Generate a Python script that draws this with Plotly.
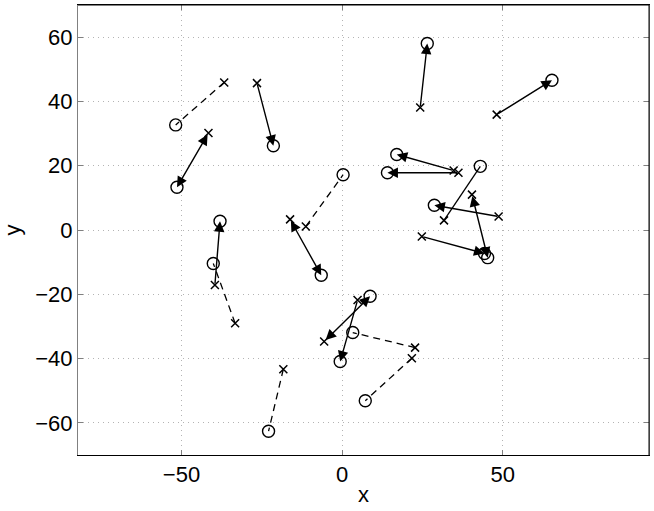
import plotly.graph_objects as go

# dashed pairs: cross -> circle
dash_x0 = [-36.7, -11.3, -33.3, -18.3, 22.7, 21.7]
dash_y0 = [45.9, 1.1, -29.0, -43.3, -36.6, -39.9]
dash_x1 = [-51.8, 0.3, -40.1, -22.9, 3.3, 7.2]
dash_y1 = [32.7, 17.2, -10.4, -62.6, -31.9, -53.1]

# solid arrows: cross -> circle
arr_x0 = [-26.5, -41.6, -39.6, -16.2, 24.3, 48.1, 34.7, 36.2, 31.7, 48.7, 40.4, 24.8, 4.8, -5.6]
arr_y0 = [45.7, 30.2, -17.1, 3.3, 38.1, 35.9, 18.5, 17.8, 3.0, 4.2, 11.0, -2.0, -21.8, -34.7]
arr_x1 = [-21.4, -51.4, -38.0, -6.5, 26.5, 65.3, 17.0, 14.1, 43.0, 28.7, 45.3, 44.3, -0.6, 8.7]
arr_y1 = [26.2, 13.3, 2.7, -14.1, 58.0, 46.6, 23.5, 17.8, 19.8, 7.7, -8.6, -7.3, -40.9, -20.6]
arr_heads = ["end", "both", "end", "both", "end", "end", "end", "end", "none",
             "end", "both", "end", "end", "both"]

x_ticks = [-50, 0, 50]
y_ticks = [-60, -40, -20, 0, 20, 40, 60]

FONT = "Liberation Sans, Arial, Helvetica, sans-serif"

fig = go.Figure()

# dashed connectors
for i in range(len(dash_x0)):
    fig.add_trace(go.Scatter(
        x=[dash_x0[i], dash_x1[i]], y=[dash_y0[i], dash_y1[i]],
        mode="lines", line=dict(color="black", width=1.3, dash="7px,5px"),
        hoverinfo="skip", showlegend=False))

# solid arrows
for i in range(len(arr_x0)):
    head = arr_heads[i]
    if head == "none":
        fig.add_trace(go.Scatter(
            x=[arr_x0[i], arr_x1[i]], y=[arr_y0[i], arr_y1[i]],
            mode="lines", line=dict(color="black", width=1.3),
            hoverinfo="skip", showlegend=False))
        continue
    fig.add_annotation(
        x=arr_x1[i], y=arr_y1[i], ax=arr_x0[i], ay=arr_y0[i],
        xref="x", yref="y", axref="x", ayref="y", text="",
        showarrow=True, arrowhead=2, arrowsize=1.5, arrowwidth=1.4,
        arrowcolor="black", standoff=0, startstandoff=0,
        arrowside="end+start" if head == "both" else "end",
        startarrowhead=2, startarrowsize=1.5)

# markers
fig.add_trace(go.Scatter(
    x=dash_x0 + arr_x0, y=dash_y0 + arr_y0, mode="markers",
    marker=dict(symbol="x-thin-open", size=8, color="black",
                line=dict(color="black", width=1.5)),
    showlegend=False))
fig.add_trace(go.Scatter(
    x=dash_x1 + arr_x1, y=dash_y1 + arr_y1, mode="markers",
    marker=dict(symbol="circle-open", size=12, color="black",
                line=dict(color="black", width=1.4)),
    showlegend=False))

axis_common = dict(
    showgrid=True, gridcolor="#b4b4b4", griddash="1px,4px", gridwidth=1,
    zeroline=False, ticks="inside", ticklen=5, tickcolor="#808080",
    showline=True, mirror="allticks", automargin=False,
    tickfont=dict(family=FONT, size=22, color="black"),
)

fig.update_layout(
    width=654, height=511,
    margin=dict(l=78, r=5, t=5, b=56),
    paper_bgcolor="white", plot_bgcolor="white",
    font=dict(family=FONT, color="black"),
    xaxis=dict(range=[-82.2, 95.5], tickvals=x_ticks, linecolor="black",
               title=dict(text="x", font=dict(family=FONT, size=22), standoff=0),
               **axis_common),
    yaxis=dict(range=[-70, 70], tickvals=y_ticks, linecolor="#808080",
               title=dict(text="y", font=dict(family=FONT, size=22), standoff=10),
               **axis_common),
    shapes=[dict(type="line", xref="paper", yref="paper", x0=1, x1=1, y0=0, y1=1,
                 line=dict(color="black", width=1)),
            dict(type="line", xref="paper", yref="paper", x0=0, x1=1, y0=1, y1=1,
                 line=dict(color="black", width=1))],
)

fig.write_html("out.html", config={"displayModeBar": False},
               post_script="document.body.style.margin='0';document.body.style.overflow='hidden';")
